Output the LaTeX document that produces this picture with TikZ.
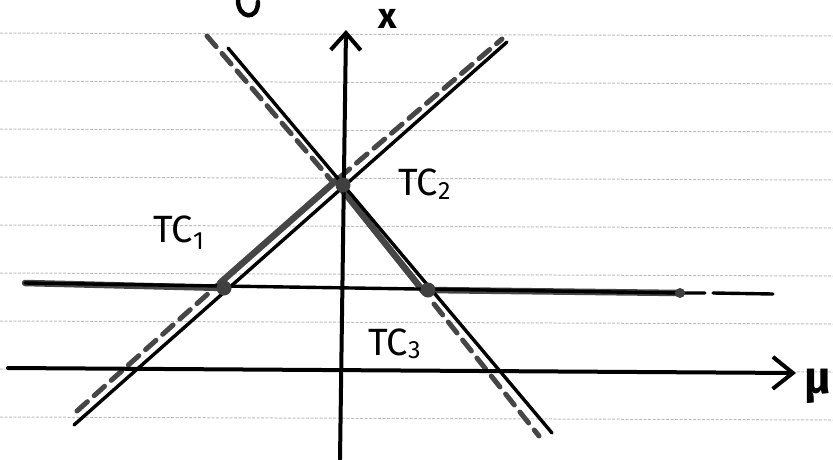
\documentclass[tikz,border=0pt]{standalone}
\usepackage{fontspec}
\setmainfont{Fira Sans}
\usetikzlibrary{arrows.meta,calc}
\begin{document}
\begin{tikzpicture}[x=1pt,y=-1pt,
  paper/.style={gray!50,line width=1pt,dash pattern=on 3pt off 1.5pt},
  blk/.style={black,line width=3.4pt,line cap=round},
  gband/.style={gray!55!black,line width=6.5pt,line cap=round},
  gdash/.style={gray!55!black,line width=5pt,dash pattern=on 14pt off 9pt,line cap=round},
  axis/.style={black,line width=4pt,line cap=round},
  dot/.style={circle,fill=gray!50!black,inner sep=0pt,minimum size=15pt},
  lbl/.style={font=\fontsize{38}{38}\selectfont,inner sep=0pt,anchor=west},
  sub/.style={font=\fontsize{25}{25}\selectfont,inner sep=0pt,anchor=west}]
\useasboundingbox (0,0) rectangle (833,459);
\clip (0,0) rectangle (833,459);
% lined paper
\foreach \yy in {33,81,129,177,225,273,321,369,417}
  \draw[paper] (0,\yy) -- (833,\yy+3);
% partial letter at top left
\draw[axis,line width=4.5pt] (238,0) .. controls (238,19) and (258,21) .. (258,2);
% key points
\coordinate (c0) at (343,185);
\coordinate (c1) at (224,288);
\coordinate (c3) at (428,290);
\coordinate (c4) at (680,293);
\coordinate (L1a) at (74,425);
\coordinate (L1b) at (507,42);
\coordinate (L2a) at (228,48);
\coordinate (L2b) at (552,433);
\coordinate (G1a) at (77,411);
\coordinate (G1b) at (220,283);
\coordinate (G1c) at (339,178);
\coordinate (G1d) at (502,39);
\coordinate (G2a) at (207,36);
\coordinate (G2b) at (331,180);
\coordinate (G2c) at (340,187);
\coordinate (G2d) at (424,292);
\coordinate (G2e) at (434,304);
\coordinate (G2f) at (539,436);
\coordinate (H0) at (25,283);
\coordinate (H1) at (705,293);
\coordinate (H2) at (713,293);
\coordinate (H3) at (773,294);
\coordinate (Xa) at (340,459);
\coordinate (Xb) at (346,30);
\coordinate (Ma) at (8,368);
\coordinate (Mb) at (796,373);
% grey companion lines
\draw[gdash] (G1a) -- (G1b);
\draw[gband] (G1b) -- (G1c);
\draw[gdash] (G1c) -- (G1d);
\draw[gdash] (G2a) -- (G2b);
\draw[gband] (G2c) -- (G2d);
\draw[gdash] (G2e) -- (G2f);
\draw[gband] (H0) -- (c1);
\draw[gband] (c3) -- (c4);
% black lines
\draw[blk] (L1a) -- (L1b);
\draw[blk] (L2a) -- (L2b);
\draw[blk] (H0) -- (c4) -- (H1);
\draw[blk] (H2) -- (H3);
% axes
\draw[axis,-{Straight Barb[length=17pt,width=30pt]}] (Xa) -- (Xb);
\draw[axis,-{Straight Barb[length=20pt,width=32pt]}] (Ma) -- (Mb);
% dots
\node[dot] (d0) at (c0) {};
\node[dot] (d1) at (c1) {};
\node[dot] (d3) at (c3) {};
\node[dot,minimum size=10pt] (d4) at (c4) {};
% labels
\node[lbl] (tc1) at (153,229) {TC};
\node[sub] (s1) at (tc1.east) [yshift=-12pt] {1};
\node[lbl] (tc2) at (398,182) {TC};
\node[sub] (s2) at (tc2.east) [yshift=-9pt] {2};
\node[lbl] (tc3) at (368,342) {TC};
\node[sub] (s3) at (tc3.east) [yshift=-8pt] {3};
\node[font=\fontsize{36}{36}\selectfont\bfseries,inner sep=0pt,anchor=base] (xl) at (388,28) {x};
\node[font=\fontsize{46}{46}\selectfont\bfseries,inner sep=0pt,anchor=base west] (mu) at (804,393) {μ};
\end{tikzpicture}
\end{document}
